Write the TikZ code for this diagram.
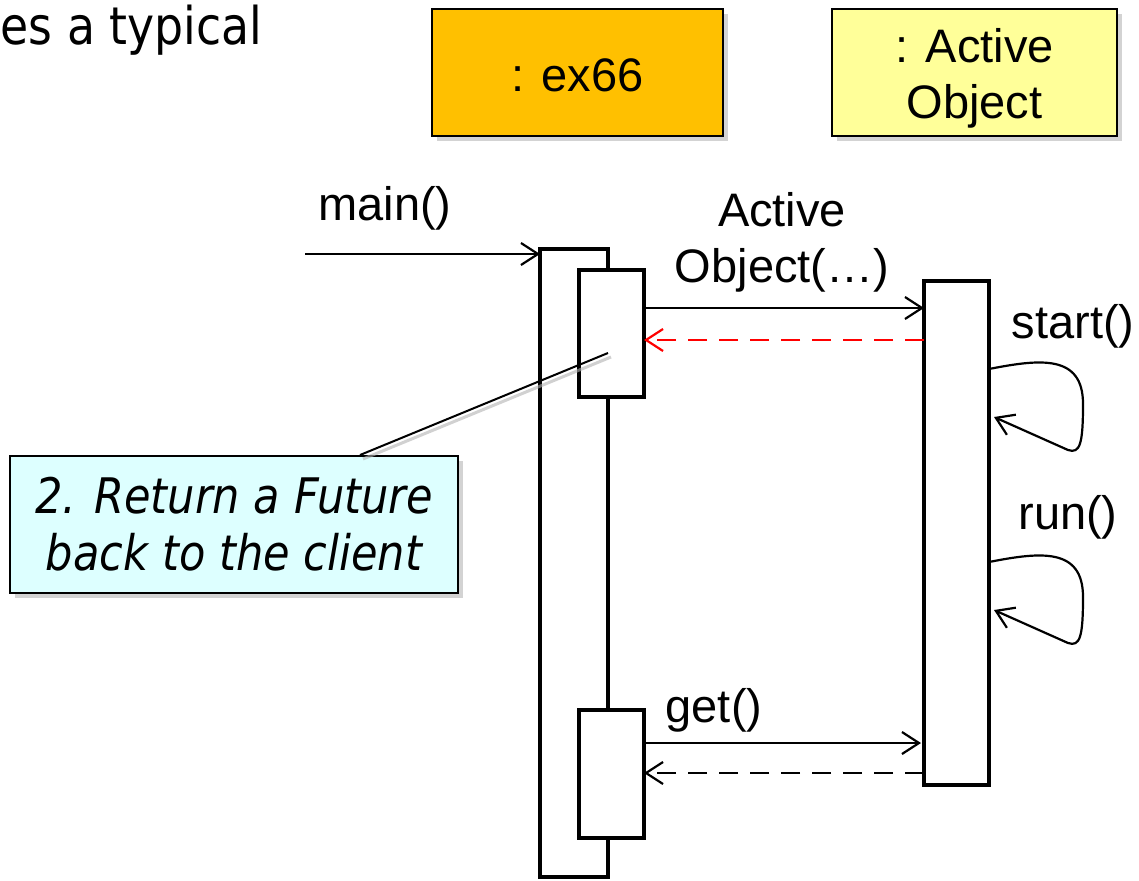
\documentclass[tikz,border=0pt]{standalone}
\usepackage{fontspec}
\setmainfont{Liberation Sans}
\newfontfamily\slidefont[FakeStretch=0.88]{DejaVu Sans}
\usetikzlibrary{arrows.meta,shadows}
\definecolor{exorange}{HTML}{FFC000}
\definecolor{aoyellow}{HTML}{FFFF99}
\definecolor{notecyan}{HTML}{DDFFFF}
\tikzset{
  lifebox/.style={draw, line width=2pt, inner sep=0pt, align=center,
    drop shadow={shadow xshift=5pt, shadow yshift=-5pt, opacity=0.35}},
  bar/.style={draw, fill=white, line width=3.5pt, inner sep=0pt, outer sep=0pt},
  msg/.style={line width=2.2pt, -{Straight Barb[length=17pt,width=22pt,line width=2.2pt]}},
  reply/.style={msg, dash pattern=on 19pt off 12pt},
}
\begin{document}
\begin{tikzpicture}[x=1pt, y=-1pt, font=\fontsize{47}{56}\selectfont]
  \useasboundingbox (0,0) rectangle (1139,880);
  \node[anchor=base west, font=\slidefont\fontsize{52}{60}\selectfont] (intro) at (-3,45) {es a typical};

  \node[lifebox, fill=exorange, minimum width=291pt, minimum height=127pt,
    label={[name=extext, yshift=-3pt]center:{: ex66}}] (ex) at (577.5,72.5) {};
  \node[lifebox, fill=aoyellow, minimum width=285pt, minimum height=127pt,
    label={[name=aotext, align=center, yshift=-6pt]center:{: Active\\Object}}] (ao) at (974.5,72.5) {};

  \node[bar, minimum width=68pt, minimum height=628pt] (exbar) at (574,563) {};
  \node[bar, minimum width=65pt, minimum height=127pt] (act1) at (611.5,333.5) {};
  \node[bar, minimum width=65pt, minimum height=128pt] (act2) at (611.5,774) {};
  \node[bar, minimum width=65pt, minimum height=504pt] (aobar) at (956.5,533) {};

  \coordinate (mainin) at (305,254);
  \coordinate (m1) at (0,308);
  \coordinate (m2) at (0,340);
  \coordinate (m3) at (0,743);
  \coordinate (m4) at (0,773);

  \draw[msg] (mainin) -- (exbar.west |- mainin);
  \draw[msg] (act1.east |- m1) -- (aobar.west |- m1);
  \draw[reply, red] (aobar.west |- m2) -- (act1.east |- m2);
  \draw[msg, shorten >=3pt] (act2.east |- m3) -- (aobar.west |- m3);
  \draw[reply] (aobar.west |- m4) -- (act2.east |- m4);

  \foreach \s in {369,562}
    \draw[msg] (aobar.east |- 0,\s) .. controls (1040,{\s-10}) and (1083,{\s-15}) .. (1083,{\s+35})
      .. controls (1083,{\s+75}) and (1080,{\s+85}) .. (1068,{\s+81}) -- (994,{\s+48});

  \node (mainlbl) at (385,208) {main()};
  \node[align=center] (ctorlbl) at (782,242) {Active\\Object(…)};
  \node (startlbl) at (1073,326) {start()};
  \node (runlbl) at (1068,517) {run()};
  \node (getlbl) at (714,710) {get()};

  \node[lifebox, fill=notecyan, minimum width=448pt, minimum height=137pt,
    font=\slidefont\itshape\fontsize{49}{57}\selectfont] (note) at (234,524.5) {2. Return a Future\\back to the client};
  \coordinate (notetip) at (608,353);
  \draw[line width=3pt, black!30, opacity=0.6] ([xshift=129pt,yshift=-4pt]note.north) -- ([xshift=3pt,yshift=-4pt]notetip);
  \draw[line width=2pt] ([xshift=126pt]note.north) -- (notetip);
\end{tikzpicture}
\end{document}
